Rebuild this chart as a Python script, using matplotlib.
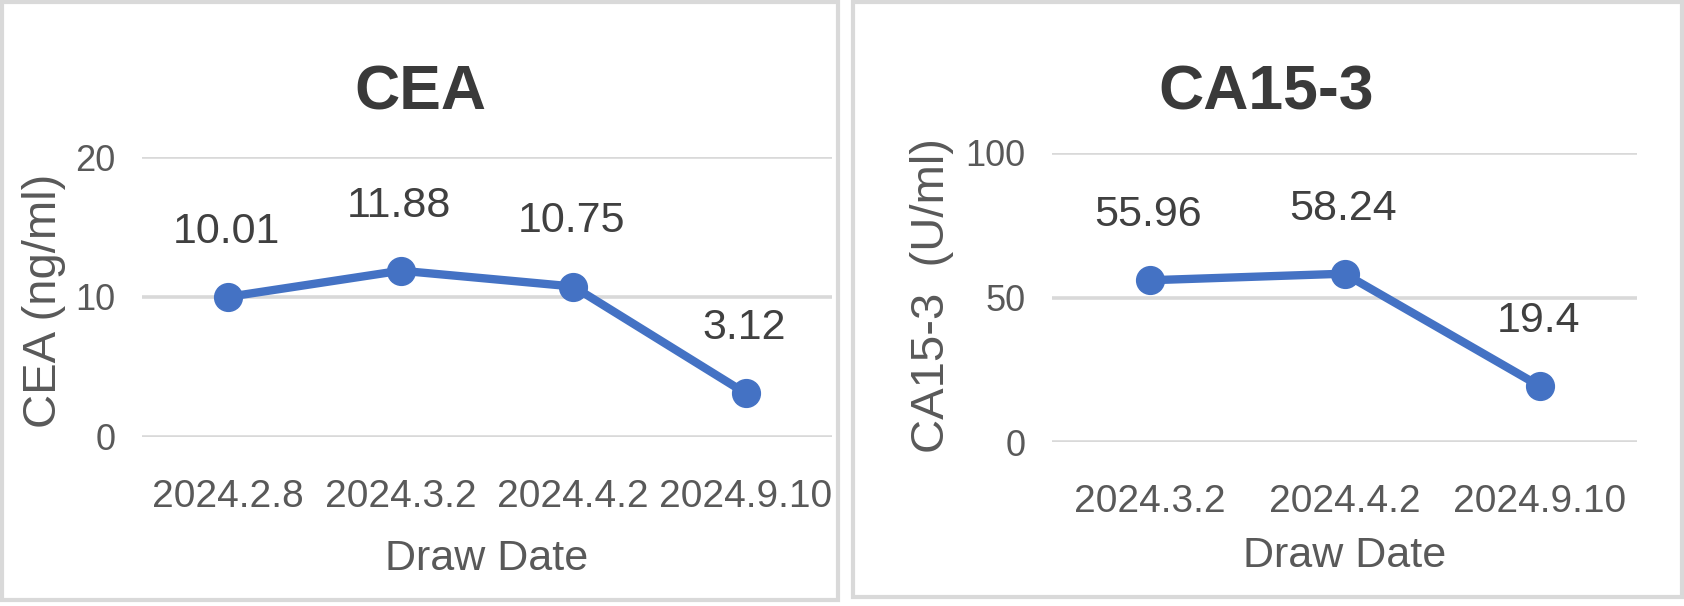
import matplotlib
matplotlib.use("Agg")
import matplotlib.pyplot as plt
from matplotlib import font_manager
from matplotlib.patches import Rectangle

# ---------------- data ----------------
cea_dates = ["2024.2.8", "2024.3.2", "2024.4.2", "2024.9.10"]
cea_values = [10.01, 11.88, 10.75, 3.12]
cea_labels = ["10.01", "11.88", "10.75", "3.12"]
cea_yticks = [0, 10, 20]

ca_dates = ["2024.3.2", "2024.4.2", "2024.9.10"]
ca_values = [55.96, 58.24, 19.4]
ca_labels = ["55.96", "58.24", "19.4"]
ca_yticks = [0, 50, 100]

# ---------------- fonts ----------------
names = {f.name for f in font_manager.fontManager.ttflist}
if "Liberation Sans Narrow" in names:
    NARROW = "Liberation Sans Narrow"
    k = 1.0 / 0.85
else:
    NARROW = "Liberation Sans"
    k = 1.0
REG = "Liberation Sans"

W, H = 1684, 606
fig = plt.figure(figsize=(W / 100, H / 100), dpi=100)
fig.patch.set_facecolor("white")

BLUE = "#4472C4"
GRID = "#D9D9D9"
DARK = "#404040"
MID = "#595959"


def px_rect(x0, y0, x1, y1):
    return [x0 / W, (H - y1) / H, (x1 - x0) / W, (y1 - y0) / H]


# panel borders
for (x0, y0, x1, y1) in [(2, 2, 838, 600), (853, 2, 1682, 597)]:
    fig.patches.append(Rectangle((x0 / W, (H - y1) / H), (x1 - x0) / W, (y1 - y0) / H,
                                 transform=fig.transFigure, fill=False,
                                 edgecolor=GRID, linewidth=3))


def make_panel(rect, dates, values, labels, yticks, title, title_x, ylabel,
               ylab_xy, xlab_y):
    ax = fig.add_axes(rect)
    x = list(range(len(dates)))
    ax.plot(x, values, color=BLUE, linewidth=6, marker="o", markersize=20,
            solid_capstyle="round", zorder=3)
    for xi, v, lab in zip(x, values, labels):
        ax.annotate(lab, (xi, v), xytext=(-1, 39), textcoords="offset points",
                    ha="center", va="baseline", fontsize=31 * k,
                    family=NARROW, color=DARK)
    ax.set_xlim(-0.5, len(dates) - 0.5)
    ax.set_ylim(yticks[0], yticks[-1])
    ax.set_yticks(yticks)
    ax.set_xticks(x)
    ax.set_xticklabels(dates, family=NARROW, fontsize=28 * k, color=MID)
    ax.set_yticklabels([str(t) for t in yticks], family=NARROW,
                       fontsize=26 * k, color=MID)
    ax.tick_params(axis="x", length=0, pad=30)
    ax.tick_params(axis="y", length=0, pad=19)
    for s in ax.spines.values():
        s.set_visible(False)
    ax.grid(axis="y", color=GRID, linewidth=2.6, zorder=0)
    ax.set_axisbelow(True)
    ax.set_xlabel("Draw Date", family=NARROW, fontsize=31 * k, color=MID)
    ax.xaxis.set_label_coords(0.5, xlab_y)
    ax.set_ylabel(ylabel, family=REG, fontsize=34, color=MID,
                  rotation=90, ha="center", va="center",
                  rotation_mode="default")
    ax.yaxis.set_label_coords(*ylab_xy)
    fig.text(title_x / W, (H - 110) / H, title, ha="center", va="baseline",
             family=NARROW, fontweight="bold", fontsize=45 * k, color="#3A3A3A")
    return ax


# left: axes x 142..832, y 157..437
make_panel(px_rect(142, 157, 832, 437), cea_dates, cea_values, cea_labels,
           cea_yticks, "CEA", 420, "CEA (ng/ml)",
           ((44 - 142) / 690, (437 - 301) / 280), (437 - 539) / 280)

# right: axes x 1052..1637, y 153..442
make_panel(px_rect(1052, 153, 1637, 442), ca_dates, ca_values, ca_labels,
           ca_yticks, "CA15-3", 1266, "CA15-3  (U/ml)",
           ((932 - 1052) / 585, (442 - 296) / 289), (442 - 536) / 289)

fig.savefig("out.png", dpi=100, facecolor="white")
